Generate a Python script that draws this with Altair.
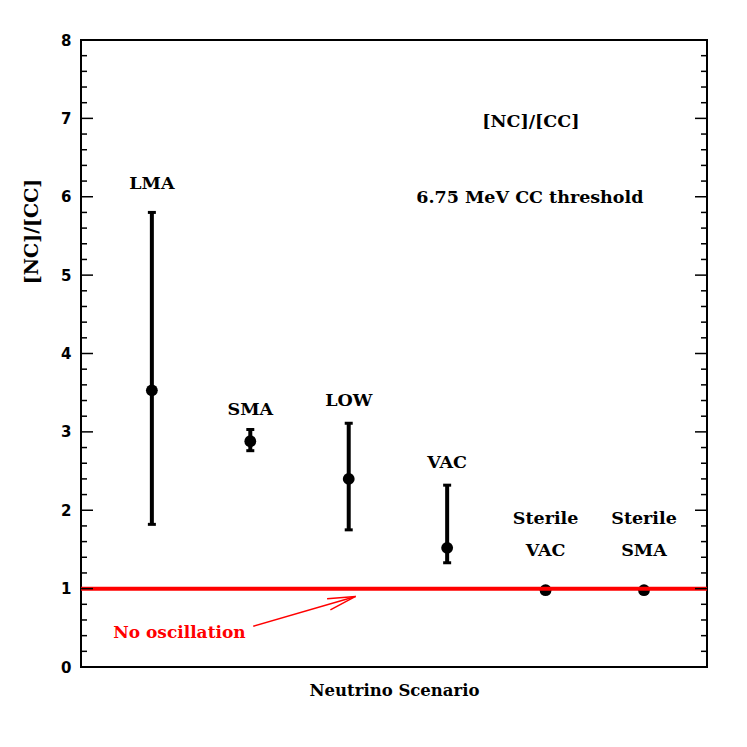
import altair as alt
import pandas as pd

# ---- data ----
scenarios = ["LMA", "SMA", "LOW", "VAC", "Sterile VAC", "Sterile SMA"]
xpos = [1, 2, 3, 4, 5, 6]
ratio = [3.53, 2.88, 2.40, 1.52, 0.98, 0.98]
err_lo = [1.82, 2.76, 1.75, 1.33]
err_hi = [5.80, 3.03, 3.11, 2.32]

label_text = ["LMA", "SMA", "LOW", "VAC", "Sterile", "VAC", "Sterile", "SMA"]
label_x = [1, 2, 3, 4, 5, 5, 6, 6]
label_y = [6.16, 3.28, 3.39, 2.60, 1.89, 1.48, 1.89, 1.48]

note_text = ["[NC]/[CC]", "6.75 MeV CC threshold"]
note_x = [4.85, 4.84]
note_y = [6.95, 5.98]

no_osc_level = [1.0]
arrow_x = [2.03, 3.07]
arrow_y = [0.52, 0.90]
no_osc_label = ["No oscillation"]
no_osc_label_x = [1.28]
no_osc_label_y = [0.44]

y_labels = [0, 1, 2, 3, 4, 5, 6, 7, 8]
major_ticks = [0, 1, 2, 3, 4, 5, 6, 7, 8]
minor_ticks = [round(i * 0.2, 1) for i in range(41) if i % 5 != 0]

W, H = 626, 627
X_DOMAIN = [0.28, 6.64]
Y_DOMAIN = [0, 8]

SERIF = "DejaVu Serif"

pts = pd.DataFrame({"scenario": scenarios, "x": xpos, "y": ratio})
errs = pd.DataFrame({"x": xpos[:4], "lo": err_lo, "hi": err_hi})
labels = pd.DataFrame({"t": label_text, "x": label_x, "y": label_y})
notes = pd.DataFrame({"t": note_text, "x": note_x, "y": note_y})
ref = pd.DataFrame({"y": no_osc_level})
arrow = pd.DataFrame({"x": arrow_x, "y": arrow_y, "o": [0, 1]})
arrow_head = pd.DataFrame({"x": [arrow_x[1]], "y": [arrow_y[1]]})
osc_lab = pd.DataFrame({"t": no_osc_label, "x": no_osc_label_x, "y": no_osc_label_y})
majors = pd.DataFrame({"y": major_ticks})
minors = pd.DataFrame({"y": minor_ticks})

xs = alt.Scale(domain=X_DOMAIN, nice=False, zero=False)
ys = alt.Scale(domain=Y_DOMAIN, nice=False, zero=False)

x_axis = alt.Axis(
    title="Neutrino Scenario", labels=False, ticks=False, domain=False, grid=False,
    titleFont=SERIF, titleFontSize=16.5, titleFontWeight="bold", titleColor="black",
    titleBaseline="middle", titleY=23, titleX=W / 2,
)
y_axis = alt.Axis(
    title="[NC]/[CC]", values=y_labels, ticks=False, domain=False, grid=False,
    labelFont="DejaVu Sans", labelFontWeight="bold", labelFontSize=15,
    labelColor="black", labelPadding=10, format="d",
    titleFont=SERIF, titleFontSize=19, titleFontWeight="bold", titleColor="black",
    titleAngle=270, titleBaseline="middle", titleAlign="center",
    titleX=-50, titleY=191,
)


def X(field="x"):
    return alt.X(f"{field}:Q", scale=xs, axis=x_axis, title="Neutrino Scenario")


def Y(field="y"):
    return alt.Y(f"{field}:Q", scale=ys, axis=y_axis, title="[NC]/[CC]")


pts_layer = alt.Chart(pts).mark_point(filled=True, color="black", size=140, opacity=1).encode(
    x=X(), y=Y()
)

bars = alt.Chart(errs).mark_rule(color="black", strokeWidth=4, opacity=1).encode(
    x=X(), y=Y("lo"), y2="hi:Q"
)
cap_lo = alt.Chart(errs).mark_tick(color="black", orient="horizontal", size=8, thickness=3, opacity=1).encode(
    x=X(), y=Y("lo")
)
cap_hi = alt.Chart(errs).mark_tick(color="black", orient="horizontal", size=8, thickness=3, opacity=1).encode(
    x=X(), y=Y("hi")
)

ref_line = alt.Chart(ref).mark_rule(color="#ff0000", strokeWidth=4, opacity=1).encode(y=Y())

lab = alt.Chart(labels).mark_text(font=SERIF, fontSize=17.5, fontWeight="bold", color="black",
                                  baseline="middle", align="center").encode(
    x=X(), y=Y(), text="t:N"
)
note = alt.Chart(notes).mark_text(font=SERIF, fontSize=17.5, fontWeight="bold", color="black",
                                  baseline="middle", align="center").encode(
    x=X(), y=Y(), text="t:N"
)

arr = alt.Chart(arrow).mark_line(color="#ff0000", strokeWidth=1.5).encode(x=X(), y=Y(), order="o:Q")
head = alt.Chart(arrow_head).mark_point(
    shape="M-1,-0.21L0,0L-1,0.21", size=3136, color="#ff0000", strokeWidth=1.5,
    filled=False, angle=343.8, opacity=1,
).encode(x=X(), y=Y())
osc = alt.Chart(osc_lab).mark_text(font=SERIF, fontSize=17, fontWeight="bold", color="#ff0000",
                                   baseline="middle", align="center").encode(
    x=X(), y=Y(), text="t:N"
)

tick_l_major = alt.Chart(majors).mark_rule(color="black", strokeWidth=1.5).encode(
    x=alt.value(0), x2=alt.value(12), y=Y()
)
tick_l_minor = alt.Chart(minors).mark_rule(color="black", strokeWidth=1.5).encode(
    x=alt.value(0), x2=alt.value(6), y=Y()
)
tick_r_major = alt.Chart(majors).mark_rule(color="black", strokeWidth=1.5).encode(
    x=alt.value(W - 12), x2=alt.value(W), y=Y()
)
tick_r_minor = alt.Chart(minors).mark_rule(color="black", strokeWidth=1.5).encode(
    x=alt.value(W - 6), x2=alt.value(W), y=Y()
)

chart = alt.layer(
    pts_layer, ref_line, tick_l_major, tick_l_minor, tick_r_major, tick_r_minor,
    bars, cap_lo, cap_hi, lab, note, arr, head, osc,
).properties(
    width=W, height=H,
    autosize=alt.AutoSizeParams(type="none"),
    padding={"left": 73, "top": 32, "right": 32, "bottom": 40},
    background="white",
).configure_view(stroke="black", strokeWidth=2)

chart.save("out.html", embed_options={"renderer": "svg", "actions": False})
